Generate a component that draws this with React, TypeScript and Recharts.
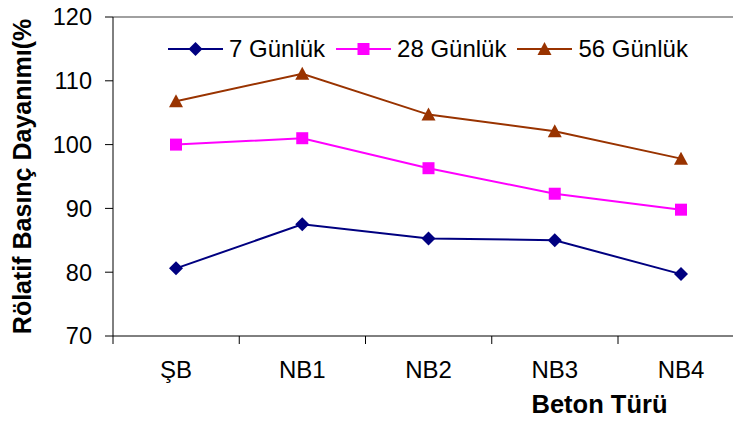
import { LineChart, Line, XAxis, YAxis, ReferenceLine } from "recharts"

const categories = ["ŞB", "NB1", "NB2", "NB3", "NB4"]
const gun7 = [80.6, 87.5, 85.3, 85.0, 79.7]
const gun28 = [100.0, 101.0, 96.3, 92.3, 89.8]
const gun56 = [106.8, 111.1, 104.7, 102.1, 97.8]
const yTicks = [70, 80, 90, 100, 110, 120]

const seriesInfo = [
  { key: "g7", name: "7 Günlük", color: "#000080", shape: "diamond" },
  { key: "g28", name: "28 Günlük", color: "#FF00FF", shape: "square" },
  { key: "g56", name: "56 Günlük", color: "#993300", shape: "triangle" },
]

const data = categories.map((c, i) => ({ cat: c, g7: gun7[i], g28: gun28[i], g56: gun56[i] }))

const FONT = "'Liberation Sans', Arial, sans-serif"
const HALF_BAND = 63

function Marker({ cx, cy, shape, color }: { cx: number; cy: number; shape: string; color: string }) {
  if (shape === "diamond") {
    return <polygon points={`${cx},${cy - 7} ${cx + 7},${cy} ${cx},${cy + 7} ${cx - 7},${cy}`} fill={color} />
  }
  if (shape === "square") {
    return <rect x={cx - 6} y={cy - 6} width={12} height={12} fill={color} />
  }
  return <polygon points={`${cx},${cy - 7} ${cx + 7},${cy + 6} ${cx - 7},${cy + 6}`} fill={color} />
}

const makeDot = (shape: string, color: string) => (props: any) => (
  <Marker key={props.index} cx={props.cx} cy={props.cy} shape={shape} color={color} />
)

// category labels sit mid-band, tick marks on the band edges
function XTick(props: any) {
  const { x, y, payload } = props
  return (
    <g>
      <line x1={x - HALF_BAND} y1={y - 10} x2={x - HALF_BAND} y2={y - 2} stroke="#000" />
      <text x={x} y={y + 32} textAnchor="middle" fontSize={24} fontFamily={FONT} fill="#000">
        {payload.value}
      </text>
    </g>
  )
}

function LegendBox() {
  return (
    <div
      style={{
        position: "absolute",
        left: 168,
        top: 35,
        display: "flex",
        alignItems: "center",
        fontFamily: FONT,
        fontSize: 24,
        color: "#000",
        whiteSpace: "nowrap",
      }}
    >
      {seriesInfo.map((s) => (
        <div key={s.key} style={{ display: "flex", alignItems: "center", marginRight: 11 }}>
          <svg width={55} height={20}>
            <line x1={0} y1={10} x2={55} y2={10} stroke={s.color} strokeWidth={2} />
            <Marker cx={27.5} cy={10} shape={s.shape} color={s.color} />
          </svg>
          <span style={{ marginLeft: 6, lineHeight: "28px" }}>{s.name}</span>
        </div>
      ))}
    </div>
  )
}

export default function App() {
  return (
    <div style={{ position: "absolute", left: 0, top: 0, width: 733, height: 425, overflow: "hidden", background: "#fff" }}>
      <LineChart width={760} height={425} data={data} margin={{ top: 17, right: 16, left: 0, bottom: 0 }}>
        <ReferenceLine y={120} stroke="#808080" strokeWidth={1.5} />
        <XAxis
          dataKey="cat"
          height={89}
          padding={{ left: HALF_BAND, right: HALF_BAND }}
          axisLine={{ stroke: "#000" }}
          tickLine={false}
          tickSize={8}
          tickMargin={2}
          tick={<XTick />}
          interval={0}
          label={{ value: "Beton Türü", position: "insideBottom", dx: 171, dy: -7, fontSize: 25.5, fontWeight: "bold", fontFamily: FONT, fill: "#000" }}
        />
        <YAxis
          width={113}
          domain={[70, 120]}
          ticks={yTicks}
          allowDataOverflow
          axisLine={{ stroke: "#000" }}
          tickLine={{ stroke: "#000" }}
          tickSize={8}
          tickMargin={13}
          tick={{ fontSize: 23.5, fontFamily: FONT, fill: "#000" }}
          label={{ value: "Rölatif Basınç Dayanımı(%", angle: -90, position: "insideLeft", dx: 17, dy: 0, style: { textAnchor: "middle" }, fontSize: 25, fontWeight: "bold", fontFamily: FONT, fill: "#000" }}
        />
        {seriesInfo.map((s) => (
          <Line
            key={s.key}
            type="linear"
            dataKey={s.key}
            name={s.name}
            stroke={s.color}
            strokeWidth={2}
            dot={makeDot(s.shape, s.color)}
            activeDot={false}
            isAnimationActive={false}
          />
        ))}
      </LineChart>
      <LegendBox />
    </div>
  )
}
